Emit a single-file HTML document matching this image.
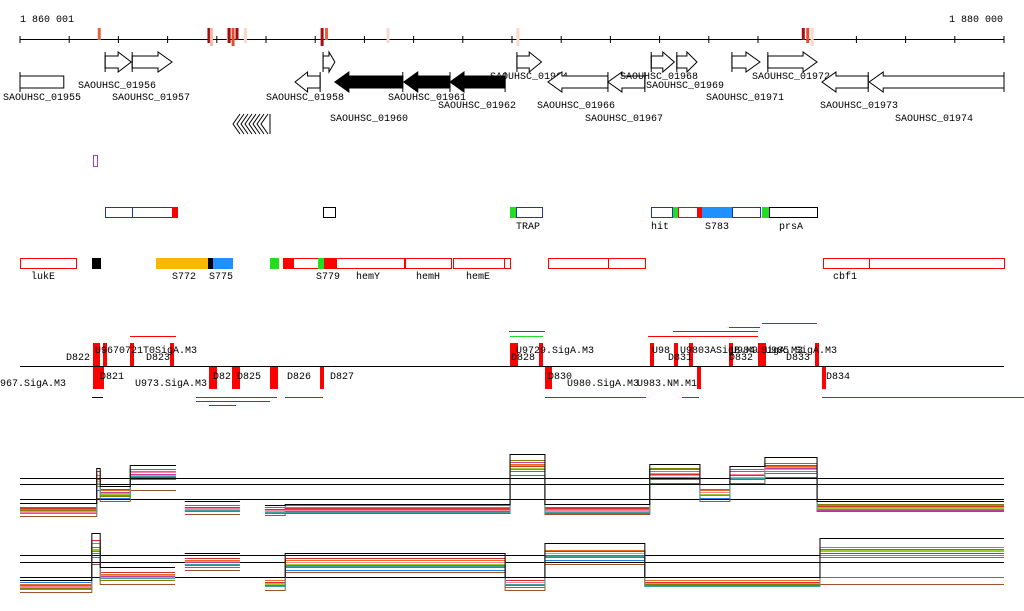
<!DOCTYPE html>
<html><head><meta charset="utf-8"><style>
html,body{margin:0;padding:0;background:#fff;}
svg{display:block;font-family:"Liberation Mono",monospace;font-size:10px;}
</style></head><body>
<svg id="c" width="1024" height="611" xmlns="http://www.w3.org/2000/svg">
<g id="axis">
<text x="20" y="22">1 860 001</text>
<text x="1003" y="22" text-anchor="end">1 880 000</text>
<line x1="20" y1="39.5" x2="1004" y2="39.5" stroke="#000"/>
</g>
<g id="genes"></g>
<g id="tracks"></g>
<g id="sites"></g>
<g id="expr"></g>
</svg>
<script>
const NS="http://www.w3.org/2000/svg";
const geneNames=["SAOUHSC_01955","SAOUHSC_01956","SAOUHSC_01957","SAOUHSC_01958","","SAOUHSC_01960","SAOUHSC_01961","SAOUHSC_01962","SAOUHSC_01964","SAOUHSC_01966","SAOUHSC_01967","SAOUHSC_01968","SAOUHSC_01969","SAOUHSC_01971","SAOUHSC_01972","SAOUHSC_01973","SAOUHSC_01974"];
const geneStart=[0,1.73,2.28,5.59,6.16,6.4,7.8,8.74,10.1,10.73,11.95,12.83,13.35,14.47,15.2,16.3,17.26];
const geneEnd=[0.89,2.26,3.09,6.1,6.4,7.78,8.74,9.86,10.6,11.95,12.7,13.3,13.76,15.04,16.2,17.24,20];
const geneStrand=[0,1,1,-1,1,-1,-1,-1,1,-1,-1,1,1,1,1,-1,-1];
const geneRow=[1,0,0,1,0,1,1,1,0,1,1,0,0,0,0,1,1];
const geneBlack=[0,0,0,0,0,1,1,1,0,0,0,0,0,0,0,0,0];
const geneLabelPos=[[3,100],[78,88],[112,100],[266,100],[0,0],[330,121],[388,100],[438,108],[490,79],[537,108],[585,121],[620,79],[646,88],[706,100],[752,79],[820,108],[895,121]];
const axisMarkPos=[1.58,3.81,3.86,4.2,4.22,4.3,4.38,4.55,6.11,6.2,7.45,10.09,15.89,15.98,16.07];
const axisMarkCol=["#e8603c","#a01010","#f4b8a8","#f8d0c0","#a01010","#e05030","#a01010","#f8d8c8","#a01010","#e8603c","#fad8cc","#fad8cc","#a01010","#e05030","#fad8cc"];
const X=kb=>20+kb*49.2;
function el(tag,attrs,parent){const e=document.createElementNS(NS,tag);for(const k in attrs)e.setAttribute(k,attrs[k]);parent.appendChild(e);return e;}
const ax=document.getElementById('axis');
for(let i=0;i<=20;i++){el('line',{x1:X(i),x2:X(i),y1:36,y2:43,stroke:'#000'},ax);}
axisMarkPos.forEach((p,i)=>{const r=el('rect',{x:X(p),y:28,width:3,height:12+(i%3)*3,fill:axisMarkCol[i]},ax);

});
const G=document.getElementById('genes');
geneStart.forEach((s,i)=>{
 const x1=X(s),x2=X(geneEnd[i]);const top=geneRow[i]?72:52;const h=20;const m=top+h/2;
 const bt=top+4,bb=top+h-4;const hl=Math.min(14,(x2-x1)*0.5);
 let pts;
 if(i===0){pts=`${x1},${top+4} ${x2},${top+4} ${x2},${bb} ${x1},${bb}`;}
 else if(geneStrand[i]>0){pts=`${x1},${bt} ${x2-hl},${bt} ${x2-hl},${top} ${x2},${m} ${x2-hl},${top+h} ${x2-hl},${bb} ${x1},${bb}`;}
 else {pts=`${x2},${bt} ${x1+hl},${bt} ${x1+hl},${top} ${x1},${m} ${x1+hl},${top+h} ${x1+hl},${bb} ${x2},${bb}`;}
 const p=el('polygon',{points:pts,fill:geneBlack[i]?'#000':'#fff',stroke:'#000'},G);
 
 
 el('line',{x1:geneStrand[i]<0?x2:x1,x2:geneStrand[i]<0?x2:x1,y1:top,y2:top+h,stroke:'#000'},G);
 if(geneNames[i]){const t=el('text',{x:geneLabelPos[i][0],y:geneLabelPos[i][1]},G);t.textContent=geneNames[i];
 
 }
});
for(let k=0;k<8;k++){el('polyline',{points:`${240+k*4},114 ${233+k*4},124 ${240+k*4},134`,fill:'none',stroke:'#000'},G);}
el('line',{x1:270,x2:270,y1:114,y2:134,stroke:'#000'},G);
const T=document.getElementById('tracks');
el('rect',{x:93.5,y:155.5,width:4,height:11,fill:'#fff',stroke:'#a040c0'},T);
const boxRow1=[[105,132,'#fff','#2030c0'],[132,172,'#fff','#2030c0'],[172,177,'#f00','#f00'],[323,335,'#fff','#000'],[510,515,'#2d2','#2d2'],[516,542,'#fff','#2030c0'],[651,672,'#fff','#2030c0'],[673,678,'#2d2','#2d2'],[678,697,'#fff','#f00'],[697,702,'#f00','#f00'],[702,731,'#1e90ff','#1e90ff'],[732,760,'#fff','#2030c0'],[762,768,'#2d2','#2d2'],[769,817,'#fff','#000']];
boxRow1.forEach(b=>{const r=el('rect',{x:b[0]+.5,y:207.5,width:b[1]-b[0],height:10,fill:b[2],stroke:b[3]},T);

});
[['TRAP',516,229],['hit',651,229],['S783',705,229],['prsA',779,229]].forEach(a=>{const t=el('text',{x:a[1],y:a[2]},T);t.textContent=a[0];});
const boxRow2=[[20,76,'#fff','#f00'],[92,100,'#000','#000'],[156,208,'#f8b800','#f8b800'],[208,213,'#000','#000'],[213,232,'#1e90ff','#1e90ff'],[270,278,'#2d2','#2d2'],[283,293,'#f00','#f00'],[293,318,'#fff','#f00'],[318,323,'#2d2','#2d2'],[324,336,'#f00','#f00'],[336,404,'#fff','#f00'],[405,451,'#fff','#f00'],[453,504,'#fff','#f00'],[504,510,'#fff','#f00'],[548,608,'#fff','#f00'],[608,645,'#fff','#f00'],[823,869,'#fff','#f00'],[869,1004,'#fff','#f00']];
boxRow2.forEach(b=>{const r=el('rect',{x:b[0]+.5,y:258.5,width:b[1]-b[0],height:10,fill:b[2],stroke:b[3]},T);

});
[['lukE',31,279],['S772',172,279],['S775',209,279],['S779',316,279],['hemY',356,279],['hemH',416,279],['hemE',466,279],['cbf1',833,279]].forEach(a=>{const t=el('text',{x:a[1],y:a[2]},T);t.textContent=a[0];});
const S=document.getElementById('sites');
el('line',{x1:20,x2:1004,y1:366.5,y2:366.5,stroke:'#000'},S);
const siteUp=[93,96,103,130,170,510,514,539,650,674,689,729,758,762,815];
const siteDn=[93,97,100,209,213,232,236,270,274,320,545,548,697,822];
siteUp.forEach(x=>{el('rect',{x:x,y:343,width:4,height:23,fill:'#f00'},S);});
siteDn.forEach(x=>{el('rect',{x:x,y:367,width:4,height:22,fill:'#f00'},S);});
const siteLabels=[['D822',66,360],['U9670721T0SigA.M3',95,353],['D823',146,360],['D828',511,360],['U9729.SigA.M3',516,353],['U98',652,353],['D831',668,360],['U9803ASigB.M9',680,353],['U984.SigA.M3',731,353],['D832',729,360],['U985.SigA.M3',765,353],['D833',786,360],['D834',826,379],['U973.SigA.M3',135,386],['D82',213,379],['D825',237,379],['D826',287,379],['D827',330,379],['U980.SigA.M3',567,386],['U983.NM.M1',637,386],['967.SigA.M3',0,386],['D821',100,379],['D830',548,379]];
siteLabels.forEach(a=>{const t=el('text',{x:a[1],y:a[2]},S);t.textContent=a[0];

});
[[130,176,336,'#f00'],[510,543,336,'#2d2'],[509,545,331,'#f00'],[648,758,336,'#f00'],[673,758,331,'#f00'],[729,760,327,'#f00'],[762,817,323,'#f00'],[196,277,397,'#f00'],[196,270,401,'#f00'],[209,236,405,'#f00'],[285,323,397,'#f00'],[545,646,397,'#f00'],[682,699,397,'#f00'],[822,1024,397,'#f00'],[92,103,397,'#000']].forEach(l=>{el('rect',{x:l[0],y:l[2],width:l[1]-l[0],height:1,fill:l[3]},S);});
// expression data
const blocks1Start=[0,1.56,1.63,2.24,3.35,4.98,5.39,9.96,10.67,12.8,13.82,14.43,15.14,16.2];
const blocks1End=[1.56,1.63,2.24,3.17,4.47,5.39,9.96,10.67,12.8,13.82,14.43,15.14,16.2,20];
const p1Black=[2.3,7,4.5,7.4,2.5,2,2.2,8.8,2.1,7.5,4.8,7.2,8.4,2.6];
const p1Orange=[1.5,6,4,6.5,1.8,1.5,1.8,7.5,1.5,6.5,4,6.2,7.2,2];
const p1Green=[1.2,5,3.5,6,1.5,1.2,1.4,7,1.2,6,3.5,5.8,6.8,1.6];
const p1Blue=[1.8,4,3,5.5,2,1.8,2,6.5,1.8,5.5,3,5.5,6.3,1.8];
const p1Purple=[1,5.5,3.8,6.2,1.2,1,1.2,7.8,1,6.8,4.2,6.5,7,1.4];
const p1Brown=[0.6,3,2.5,4,0.8,0.7,0.9,6,0.8,5,2.5,5,5.8,1.2];
const p1Red=[1.6,6.5,4.2,5.8,1.7,1.5,1.6,7.2,1.6,6.2,3.8,6,7.4,1.9];
const p1Olive=[1.3,4.5,3.2,6.8,1.4,1.3,1.5,8,1.3,7,4.1,6.8,7.6,2.2];
const p1Pink=[1.1,5.2,3.6,6.4,1.6,1.4,1.3,7.3,1.4,6.3,3.7,6.1,7.1,1.7];
const p1Teal=[0.9,4.8,3.3,5.9,1.3,1.1,1.1,6.8,1.1,5.8,3.3,5.6,6.6,1.5];
const blocks2Start=[0,1.46,1.63,3.35,4.98,5.39,9.86,10.67,12.7,16.26];
const blocks2End=[1.46,1.63,3.15,4.47,5.39,9.86,10.67,12.7,16.26,20];
const p2Black=[2.5,9.5,4.5,6.5,3,6.5,3,8,3,8.8];
const p2Orange=[2,8,3.5,5.5,2.5,5.5,2.5,7,2.5,7.5];
const p2Green=[1.5,7,3,5,2,5,2,6.5,2,7];
const p2Blue=[2.2,6,2.8,4.5,2.2,4,1.8,5.5,2.2,3];
const p2Purple=[1.8,7.5,3.2,5.2,1.8,4.8,2.2,6,1.8,6];
const p2Brown=[0.8,5,2,4,1,3.8,1,5,1.6,2];
const p2Red=[1.7,8.5,3.8,5.8,2.3,5.8,2.6,6.8,2.3,6.5];
const p2Olive=[1.4,6.5,2.6,4.8,1.6,4.5,1.5,6.2,1.9,7.2];
const p2Pink=[1.6,7.2,3.3,5.3,2.1,5.2,2.3,6.6,2.1,6.8];
const p2Teal=[1.2,6.8,2.9,4.9,1.7,4.6,1.9,6.1,1.7,6.3];
const seriesColors=['#a0522d','#2080e0','#9acd32','#c040a0','#e07020','#808000','#d03030','#ff80a0','#40a0a0','#000'];
const E=document.getElementById('expr');
function panel(bs,be,series,bottom,scale,hl){
 hl.forEach(y=>{el('line',{x1:20,x2:1004,y1:y+.5,y2:y+.5,stroke:'#000'},E);});
 series.forEach((vals,si)=>{
  const Y=v=>Math.round(bottom-v*scale)+.5;
  let d='';
  for(let i=0;i<bs.length;i++){
   const x1=X(bs[i]),x2=X(be[i]),y=Y(vals[i]);
   if(i>0&&Math.abs(bs[i]-be[i-1])<0.01)d+=`L${x1},${y}`;else d+=`M${x1},${y}`;
   d+=`L${x2},${y}`;
  }
  const p=el('path',{d:d,fill:'none',stroke:seriesColors[si],'stroke-width':1},E);
  
  
 });
}
panel(blocks1Start,blocks1End,[p1Brown,p1Blue,p1Green,p1Purple,p1Orange,p1Olive,p1Red,p1Pink,p1Teal,p1Black],520,7.5,[478,484,499]);
panel(blocks2Start,blocks2End,[p2Brown,p2Blue,p2Green,p2Purple,p2Orange,p2Olive,p2Red,p2Pink,p2Teal,p2Black],597,6.7,[555,562,577]);
</script>
</body></html>
